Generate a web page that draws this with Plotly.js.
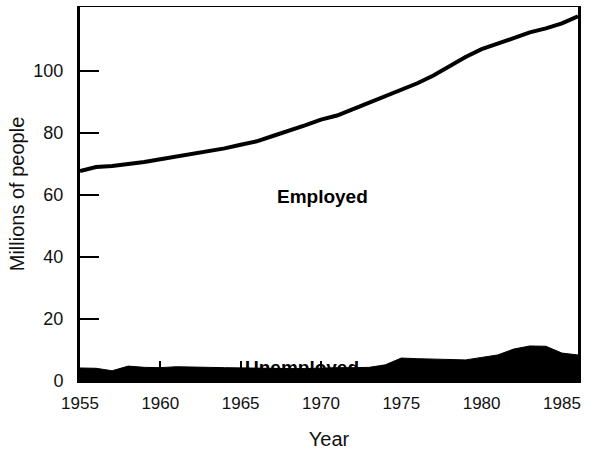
<!DOCTYPE html>
<html>
<head>
<meta charset="utf-8">
<script src="https://cdn.plot.ly/plotly-3.0.1.min.js"></script>
<style>
  html, body { margin: 0; padding: 0; background: #ffffff; }
  #chart { width: 599px; height: 451px; }
</style>
</head>
<body>
<div id="chart"></div>
<script>
// US labor force, 1955-1986 (millions of people)
const years = [1955, 1956, 1957, 1958, 1959, 1960, 1961, 1962, 1963, 1964,
               1965, 1966, 1967, 1968, 1969, 1970, 1971, 1972, 1973, 1974,
               1975, 1976, 1977, 1978, 1979, 1980, 1981, 1982, 1983, 1984,
               1985, 1986];
const employed = [67.7, 69.0, 69.3, 69.8, 70.6, 71.5, 72.4, 73.0, 74.0, 75.0,
                  76.2, 77.3, 79.0, 80.6, 82.4, 84.3, 85.6, 87.7, 89.8, 92.0,
                  94.0, 96.0, 98.5, 101.5, 104.5, 107.0, 108.8, 110.6, 112.4, 113.7,
                  115.3, 117.6];
const unemployed = [4.2, 4.1, 3.3, 4.8, 4.4, 4.3, 4.6, 4.6, 4.4, 4.3,
                    4.2, 4.0, 4.0, 4.0, 4.0, 4.2, 4.3, 4.3, 4.4, 5.2,
                    7.4, 7.2, 7.1, 6.9, 6.8, 7.6, 8.4, 10.3, 11.3, 11.2,
                    9.0, 8.4];
const yearTicks = [1955, 1960, 1965, 1970, 1975, 1980, 1985];
const peopleTicks = [0, 20, 40, 60, 80, 100];

const FONT = '"Liberation Sans", Arial, Helvetica, sans-serif';
const INK = '#111111';

const traces = [
  {
    x: years, y: unemployed, type: 'scatter', mode: 'lines',
    fill: 'tozeroy', fillcolor: '#000000',
    line: { color: '#000000', width: 1 },
    hoverinfo: 'skip', showlegend: false
  },
  {
    x: years, y: employed, type: 'scatter', mode: 'lines',
    line: { color: '#000000', width: 4 },
    hoverinfo: 'skip', showlegend: false
  }
];

const layout = {
  width: 599, height: 451,
  margin: { l: 80, r: 21, t: 7, b: 70 },
  paper_bgcolor: '#ffffff', plot_bgcolor: '#ffffff',
  showlegend: false,
  font: { family: FONT, color: INK, size: 17 },
  xaxis: {
    range: [1955, 1986], tickvals: yearTicks, ticktext: yearTicks.map(String),
    showgrid: false, zeroline: false,
    showline: true, linecolor: '#000000', linewidth: 1.5, mirror: true,
    ticks: 'inside', ticklen: 20, tickwidth: 2, tickcolor: '#000000',
    ticklabelstandoff: 6,
    tickfont: { family: FONT, size: 17, color: INK },
    title: { text: 'Year', font: { family: FONT, size: 20, color: INK }, standoff: 20 }
  },
  yaxis: {
    range: [0, 120.6], tickvals: peopleTicks, ticktext: peopleTicks.map(String),
    showgrid: false, zeroline: false,
    showline: true, linecolor: '#000000', linewidth: 3, mirror: true,
    ticks: 'inside', ticklen: 19, tickwidth: 2.5, tickcolor: '#000000',
    ticklabelstandoff: 10,
    tickfont: { family: FONT, size: 18, color: INK },
    title: { text: 'Millions of people', font: { family: FONT, size: 20, color: INK }, standoff: 4 }
  },
  annotations: [
    {
      x: 1970.1, y: 59.4, xref: 'x', yref: 'y', showarrow: false,
      text: '<b>Employed</b>', font: { family: FONT, size: 19, color: '#000000' },
      xanchor: 'center', yanchor: 'middle'
    },
    {
      x: 1968.8, y: 4.3, xref: 'x', yref: 'y', showarrow: false,
      text: '<b>Unemployed</b>', font: { family: FONT, size: 19, color: '#000000' },
      xanchor: 'center', yanchor: 'middle'
    }
  ]
};

Plotly.newPlot('chart', traces, layout, { displayModeBar: false, staticPlot: true });
</script>
</body>
</html>
